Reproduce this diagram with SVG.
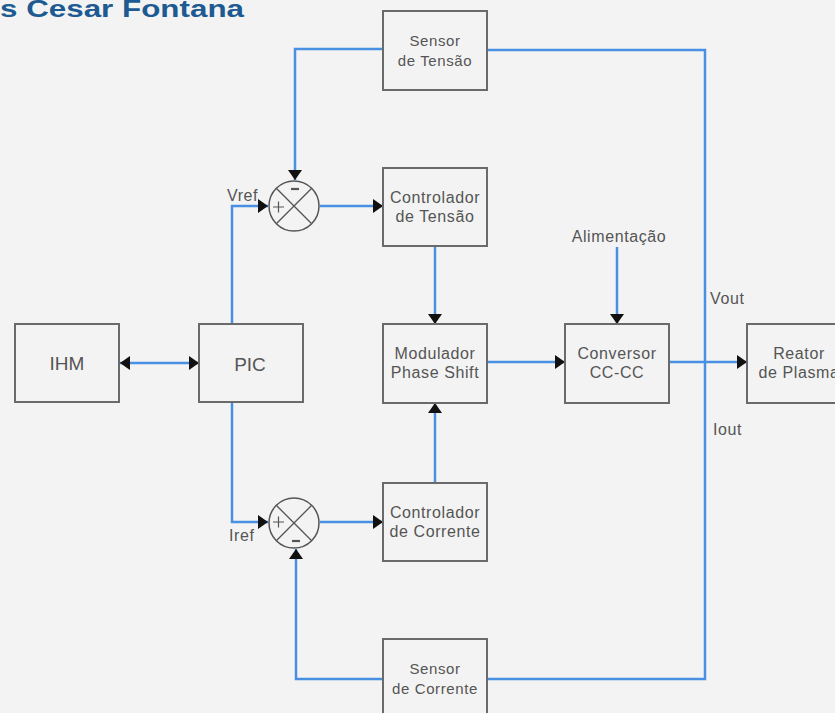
<svg xmlns="http://www.w3.org/2000/svg" width="835" height="713" viewBox="0 0 835 713">
<style>
.box{fill:#f3f3f3;stroke:#6a6a6a;stroke-width:2}
.t{font-family:"Liberation Sans",Arial,sans-serif;font-size:16px;letter-spacing:0.6px;fill:#555;text-anchor:middle}
.ts{font-family:"Liberation Sans",Arial,sans-serif;font-size:15px;letter-spacing:0.6px;fill:#555;text-anchor:middle}
.tb{font-family:"Liberation Sans",Arial,sans-serif;font-size:19px;fill:#555;text-anchor:middle}
.lbl{font-family:"Liberation Sans",Arial,sans-serif;font-size:16px;letter-spacing:0.6px;fill:#555}
.w{fill:none;stroke:#4a90e2;stroke-width:2.5}
.a{marker-end:url(#arr)}
.sum{fill:#f3f3f3;stroke:#555;stroke-width:1.5}
.x{stroke:#555;stroke-width:1.3}
.sg{stroke:#555;stroke-width:1.2;fill:none}
.mn{stroke:#555;stroke-width:2.2}
</style>
<defs>
<marker id="arr" markerUnits="userSpaceOnUse" markerWidth="11" markerHeight="14" refX="10" refY="7" orient="auto-start-reverse" viewBox="0 0 11 14">
<path d="M0,0 L10,7 L0,14 z" fill="#111"/>
</marker>
</defs>
<rect width="835" height="713" fill="#f3f3f3"/>
<text x="0" y="17" font-family="Liberation Sans,Arial,sans-serif" font-weight="bold" font-size="24" fill="#1d5a91" textLength="244" lengthAdjust="spacingAndGlyphs">s Cesar Fontana</text>

<g id="connectors">
<polyline class="w a" points="383,49 295,49 295,180"/>
<polyline class="w" points="487,50 705,50 705,679 487,679"/>
<polyline class="w a" points="383,679 296,679 296,549"/>
<polyline class="w a" points="232,324 232,206 268,206"/>
<polyline class="w a" points="232,402 232,522 268,522"/>
<line class="w a" x1="320" y1="206" x2="383" y2="206"/>
<line class="w a" x1="320" y1="522" x2="383" y2="522"/>
<line class="w a" x1="435" y1="246" x2="435" y2="324"/>
<line class="w a" x1="435" y1="483" x2="435" y2="403"/>
<line class="w a" x1="487" y1="362" x2="565" y2="362"/>
<line class="w a" x1="617" y1="247" x2="617" y2="324"/>
<line class="w a" x1="669" y1="362" x2="747" y2="362"/>
<line class="w a" x1="120" y1="363" x2="199" y2="363" style="marker-start:url(#arr)"/>
</g>

<g id="ihm"><rect class="box" x="15" y="324" width="104" height="78"/><text class="tb" x="67" y="370">IHM</text></g>
<g id="pic"><rect class="box" x="199" y="324" width="104" height="78"/><text class="tb" x="250" y="371">PIC</text></g>
<g id="sensor-tensao"><rect class="box" x="383" y="11" width="104" height="79"/><text class="ts" x="435" y="46">Sensor</text><text class="ts" x="435" y="66">de Tensão</text></g>
<g id="controlador-tensao"><rect class="box" x="383" y="168" width="104" height="78"/><text class="t" x="435" y="203">Controlador</text><text class="t" x="435" y="222">de Tensão</text></g>
<g id="modulador"><rect class="box" x="383" y="324" width="104" height="79"/><text class="t" x="435" y="359">Modulador</text><text class="t" x="435" y="378">Phase Shift</text></g>
<g id="controlador-corrente"><rect class="box" x="383" y="483" width="104" height="78"/><text class="t" x="435" y="518">Controlador</text><text class="t" x="435" y="537">de Corrente</text></g>
<g id="sensor-corrente"><rect class="box" x="383" y="639" width="104" height="80"/><text class="ts" x="435" y="674">Sensor</text><text class="ts" x="435" y="694">de Corrente</text></g>
<g id="conversor"><rect class="box" x="565" y="324" width="104" height="79"/><text class="t" x="617" y="359">Conversor</text><text class="t" x="617" y="378">CC-CC</text></g>
<g id="reator"><rect class="box" x="747" y="324" width="104" height="79"/><text class="t" x="799" y="359">Reator</text><text class="t" x="799" y="378">de Plasma</text></g>

<g id="sum-tensao">
<circle class="sum" cx="294" cy="206" r="25"/>
<line class="x" x1="276.3" y1="188.3" x2="311.7" y2="223.7"/>
<line class="x" x1="311.7" y1="188.3" x2="276.3" y2="223.7"/>
<path class="sg" d="M273,207 h11 M278.5,201.5 v11"/>
<line class="mn" x1="291" y1="189" x2="299" y2="189"/>
</g>
<g id="sum-corrente">
<circle class="sum" cx="294" cy="523" r="25"/>
<line class="x" x1="276.3" y1="505.3" x2="311.7" y2="540.7"/>
<line class="x" x1="311.7" y1="505.3" x2="276.3" y2="540.7"/>
<path class="sg" d="M273,522 h11 M278.5,516.5 v11"/>
<line class="mn" x1="292" y1="541" x2="300" y2="541"/>
</g>

<text class="lbl" x="227" y="201">Vref</text>
<text class="lbl" x="229" y="541">Iref</text>
<text class="lbl" x="710" y="304">Vout</text>
<text class="lbl" x="713" y="435">Iout</text>
<text class="lbl" x="619" y="242" text-anchor="middle">Alimentação</text>
</svg>
